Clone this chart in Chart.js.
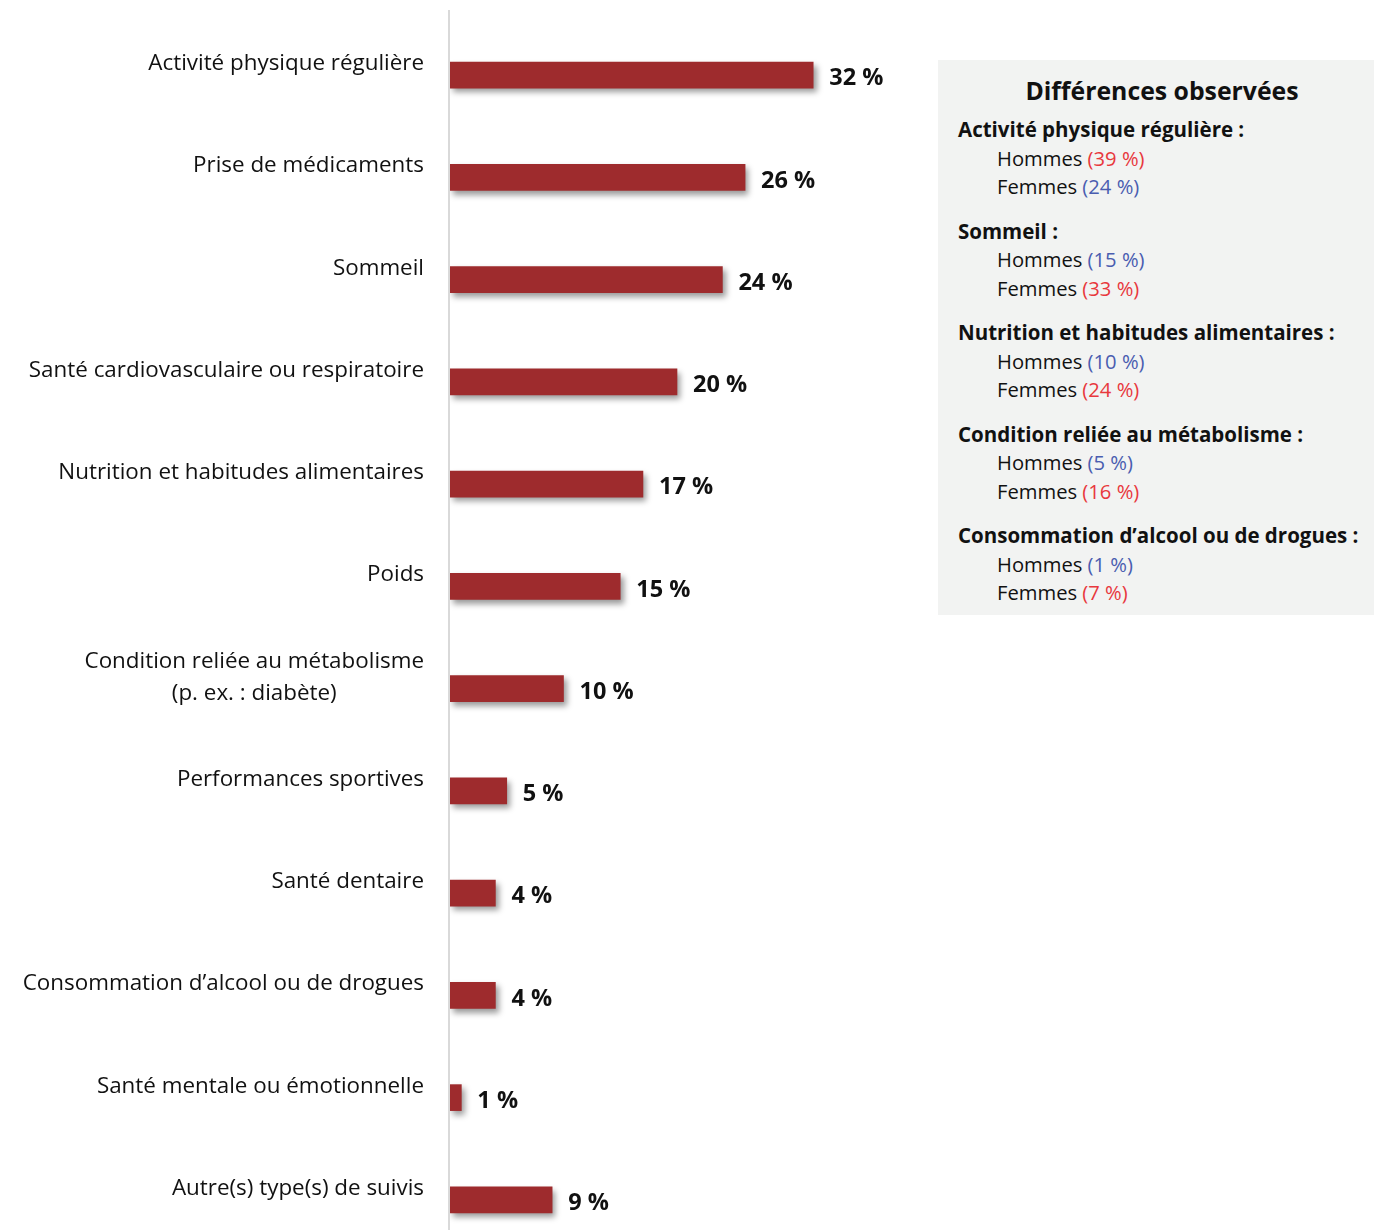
<!DOCTYPE html>
<html lang="fr">
<head>
  <meta charset="UTF-8">
  <title>Types de suivis</title>
  <script src="https://cdn.jsdelivr.net/npm/chart.js"></script>
  <style>
    html, body {
      margin: 0;
      padding: 0;
      width: 1374px;
      height: 1230px;
      overflow: hidden;
      background: #fff;
      font-family: "Open Sans", "Noto Sans", sans-serif;
    }
    #chartWrap {
      position: absolute;
      left: 0;
      top: 0;
      width: 910px;
      height: 1260px;
    }
    #panel {
      position: absolute;
      left: 938px;
      top: 60px;
      width: 436px;
      height: 555px;
      background: #f2f3f2;
      box-sizing: border-box;
      padding: 12px 0 0 20px;
      color: #111;
    }
    #panel h2 {
      margin: 0 0 7px 0;
      padding-right: 8px;
      text-align: center;
      font-size: 24.8px;
      line-height: 36px;
      font-weight: 700;
    }
    #panel .grp { margin-bottom: 16px; }
    #panel .head { font-weight: 700; font-size: 20.5px; line-height: 28.5px; }
    #panel .sub { font-size: 20.2px; line-height: 28.5px; padding-left: 39px; }
    .up { color: #e8383d; }
    .down { color: #4a5db0; }
  </style>
</head>
<body>
  <div id="chartWrap"><canvas id="suivisChart"></canvas></div>
  <div id="panel"><h2>Différences observées</h2></div>

  <script>
    const categories = [
      ['Activité physique régulière'],
      ['Prise de médicaments'],
      ['Sommeil'],
      ['Santé cardiovasculaire ou respiratoire'],
      ['Nutrition et habitudes alimentaires'],
      ['Poids'],
      ['Condition reliée au métabolisme', '(p. ex. : diabète)'],
      ['Performances sportives'],
      ['Santé dentaire'],
      ['Consommation d’alcool ou de drogues'],
      ['Santé mentale ou émotionnelle'],
      ['Autre(s) type(s) de suivis']
    ];
    const values = [32, 26, 24, 20, 17, 15, 10, 5, 4, 4, 1, 9];

    // encadré "Différences observées"
    const diffTopics = [
      'Activité physique régulière',
      'Sommeil',
      'Nutrition et habitudes alimentaires',
      'Condition reliée au métabolisme',
      'Consommation d’alcool ou de drogues'
    ];
    const diffHommes = [39, 15, 10, 5, 1];
    const diffFemmes = [24, 33, 24, 16, 7];

    const panel = document.getElementById('panel');
    diffTopics.forEach((topic, i) => {
      const h = diffHommes[i], f = diffFemmes[i];
      const grp = document.createElement('div');
      grp.className = 'grp';
      grp.innerHTML =
        `<div class="head">${topic} :</div>` +
        `<div class="sub">Hommes <span class="${h > f ? 'up' : 'down'}">(${h} %)</span></div>` +
        `<div class="sub">Femmes <span class="${f > h ? 'up' : 'down'}">(${f} %)</span></div>`;
      panel.appendChild(grp);
    });

    const labelFont = '22.4px "Open Sans"';
    const valueFont = 'bold 23.5px "Open Sans"';

    const barShadow = {
      id: 'barShadow',
      beforeDatasetsDraw(chart) {
        const ctx = chart.ctx;
        ctx.save();
        ctx.shadowColor = 'rgba(0, 0, 0, 0.4)';
        ctx.shadowBlur = 6;
        ctx.shadowOffsetX = 3;
        ctx.shadowOffsetY = 4;
      },
      afterDatasetsDraw(chart) {
        chart.ctx.restore();
      }
    };

    const axisLine = {
      id: 'axisLine',
      beforeDraw(chart) {
        const ctx = chart.ctx;
        const x = chart.chartArea.left - 1;
        ctx.save();
        ctx.strokeStyle = '#d9d9d9';
        ctx.lineWidth = 2;
        ctx.beginPath();
        ctx.moveTo(x, 10);
        ctx.lineTo(x, chart.height);
        ctx.stroke();
        ctx.restore();
      }
    };

    const textLabels = {
      id: 'textLabels',
      afterDatasetsDraw(chart) {
        const ctx = chart.ctx;
        const yScale = chart.scales.y;
        const meta = chart.getDatasetMeta(0);
        ctx.save();
        ctx.fillStyle = '#111';
        ctx.textBaseline = 'middle';
        categories.forEach((lines, i) => {
          const yc = yScale.getPixelForValue(i);
          // catégorie, bloc aligné à droite, lignes centrées entre elles
          ctx.font = labelFont;
          const widths = lines.map(l => ctx.measureText(l).width);
          const maxW = Math.max(...widths);
          const lh = 32;
          const top = yc - 11.5 - (lines.length - 1) * lh / 2;
          ctx.textAlign = 'center';
          lines.forEach((l, j) => {
            ctx.fillText(l, 424 - maxW / 2, top + j * lh);
          });
          // valeur
          ctx.font = valueFont;
          ctx.textAlign = 'left';
          ctx.fillText(values[i] + ' %', meta.data[i].x + 16, yc + 3.5);
        });
        ctx.restore();
      }
    };

    new Chart(document.getElementById('suivisChart'), {
      type: 'bar',
      data: {
        labels: categories,
        datasets: [{
          data: values,
          backgroundColor: '#9e2b2d',
          borderWidth: 0,
          barThickness: 26
        }]
      },
      options: {
        indexAxis: 'y',
        responsive: true,
        maintainAspectRatio: false,
        animation: false,
        layout: { padding: { left: 450, right: 6, top: 24, bottom: 9 } },
        scales: {
          x: { display: false, min: 0, max: 40 },
          y: { display: false }
        },
        plugins: {
          legend: { display: false },
          tooltip: { enabled: false }
        }
      },
      plugins: [axisLine, barShadow, textLabels]
    });
  </script>
</body>
</html>
